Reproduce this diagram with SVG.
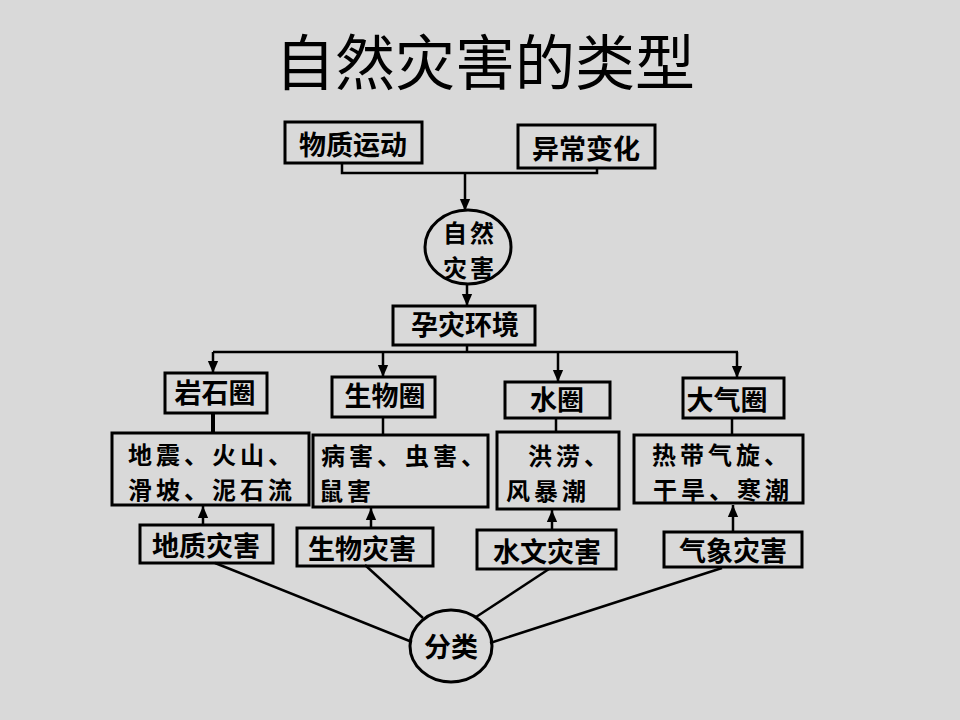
<svg xmlns="http://www.w3.org/2000/svg" width="960" height="720" viewBox="0 0 960 720">
<defs>
<style>
.bg{fill:#d9d9d9}
.box{fill:none;stroke:#000;stroke-width:3}
.ln{fill:none;stroke:#000;stroke-width:2.5}
.t{font-family:"Noto Sans CJK SC","Noto Sans CJK JP",sans-serif;font-size:27px;font-weight:bold;fill:#000}
.d{font-family:"Noto Sans CJK SC","Noto Sans CJK JP",sans-serif;font-size:24px;font-weight:bold;fill:#000;letter-spacing:4px}
.c{font-family:"Noto Sans CJK SC","Noto Sans CJK JP",sans-serif;font-size:24px;font-weight:bold;fill:#000;letter-spacing:3px}
.title{font-family:"Noto Sans CJK SC","Noto Sans CJK JP",sans-serif;font-size:60px;fill:#000}
</style>
<marker id="ah" markerUnits="userSpaceOnUse" markerWidth="12" markerHeight="16" refX="14" refY="6" orient="auto" viewBox="0 0 14 12">
<path d="M0,0 L14,6 L0,12 z" fill="#000"/>
</marker>
</defs>
<rect class="bg" x="0" y="0" width="960" height="720"/>
<text class="title" x="485" y="85" text-anchor="middle">自然灾害的类型</text>

<g id="connectors">
<path class="ln" d="M342,163 V173 H597 V168"/>
<path class="ln" d="M465,173 V211" marker-end="url(#ah)"/>
<path class="ln" d="M467,284 V306" marker-end="url(#ah)"/>
<path class="ln" d="M467,345 V352"/>
<path class="ln" d="M213,352 H738"/>
<path class="ln" d="M213,352 V373" marker-end="url(#ah)"/>
<path class="ln" d="M383,352 V377" marker-end="url(#ah)"/>
<path class="ln" d="M558,352 V382" marker-end="url(#ah)"/>
<path class="ln" d="M737,352 V378" marker-end="url(#ah)"/>
<path class="ln" d="M213,413 V433" style="stroke-width:4"/>
<path class="ln" d="M383,417 V435"/>
<path class="ln" d="M556,418 V432"/>
<path class="ln" d="M732,418 V435"/>
<path class="ln" d="M203,525 V506" marker-end="url(#ah)"/>
<path class="ln" d="M371,527 V508" marker-end="url(#ah)"/>
<path class="ln" d="M552,530 V510" marker-end="url(#ah)"/>
<path class="ln" d="M733,532 V505" marker-end="url(#ah)"/>
<path class="ln" d="M215,563 L412,642"/>
<path class="ln" d="M365,565 L423,618"/>
<path class="ln" d="M549,569 L476,617"/>
<path class="ln" d="M722,568 L490,643"/>
</g>

<g id="n-wzyd"><rect class="box" x="285" y="122" width="137" height="41"/><text class="t" x="353" y="155" text-anchor="middle">物质运动</text></g>
<g id="n-ycbh"><rect class="box" x="518" y="125" width="137" height="43"/><text class="t" x="586" y="159" text-anchor="middle">异常变化</text></g>
<g id="n-zrzh"><ellipse class="box" cx="468" cy="247" rx="43" ry="37"/><text class="c" x="470" y="242" text-anchor="middle">自然</text><text class="c" x="470" y="277" text-anchor="middle">灾害</text></g>
<g id="n-yzhj"><rect class="box" x="393" y="306" width="142" height="39"/><text class="t" x="465" y="335" text-anchor="middle">孕灾环境</text></g>

<g id="n-ysq"><rect class="box" x="165" y="373" width="102" height="40"/><text class="t" x="215" y="403" text-anchor="middle">岩石圈</text></g>
<g id="n-swq"><rect class="box" x="332" y="377" width="103" height="40"/><text class="t" x="385" y="406" text-anchor="middle">生物圈</text></g>
<g id="n-sq"><rect class="box" x="505" y="382" width="105" height="36"/><text class="t" x="557" y="410" text-anchor="middle">水圈</text></g>
<g id="n-dqq"><rect class="box" x="683" y="378" width="101" height="40"/><text class="t" x="727" y="410" text-anchor="middle">大气圈</text></g>

<g id="n-d1"><rect class="box" x="112" y="433" width="197" height="72"/><text class="d" x="128" y="464">地震、火山、</text><text class="d" x="128" y="499">滑坡、泥石流</text></g>
<g id="n-d2"><rect class="box" x="313" y="435" width="175" height="72"/><text class="d" x="321" y="465">病害、虫害、</text><text class="d" x="319" y="500">鼠害</text></g>
<g id="n-d3"><rect class="box" x="497" y="432" width="122" height="77"/><text class="d" x="528" y="465">洪涝、</text><text class="d" x="506" y="500">风暴潮</text></g>
<g id="n-d4"><rect class="box" x="634" y="435" width="169" height="68"/><text class="d" x="652" y="464">热带气旋、</text><text class="d" x="653" y="499">干旱、寒潮</text></g>

<g id="n-dzzh"><rect class="box" x="140" y="525" width="133" height="38"/><text class="t" x="206" y="556" text-anchor="middle">地质灾害</text></g>
<g id="n-swzh"><rect class="box" x="297" y="528" width="136" height="38"/><text class="t" x="362" y="559" text-anchor="middle">生物灾害</text></g>
<g id="n-swenzh"><rect class="box" x="477" y="530" width="139" height="39"/><text class="t" x="547" y="562" text-anchor="middle">水文灾害</text></g>
<g id="n-qxzh"><rect class="box" x="664" y="532" width="138" height="35"/><text class="t" x="733" y="561" text-anchor="middle">气象灾害</text></g>

<g id="n-fl"><ellipse class="box" cx="451" cy="646" rx="41" ry="36"/><text class="t" x="451" y="657" text-anchor="middle">分类</text></g>
</svg>
